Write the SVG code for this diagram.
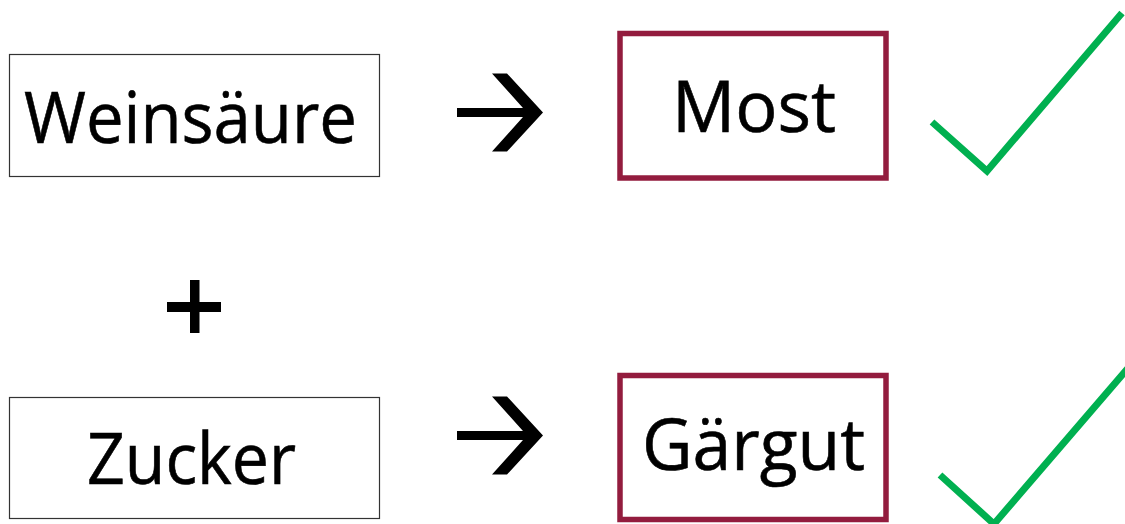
<svg xmlns="http://www.w3.org/2000/svg" width="1125" height="524" viewBox="0 0 1125 524">
  <style>
    .label { font-family: "Open Sans", "Noto Sans", "Liberation Sans", sans-serif; font-size: 72px; fill: #000; stroke: #000; stroke-width: 0.6; }
    .src { fill: #fff; stroke: #333; stroke-width: 1.2; }
    .dst { fill: #fff; stroke: #931C3E; stroke-width: 5.5; }
    .check { fill: none; stroke: #00B050; stroke-width: 7; stroke-linejoin: miter; }
  </style>
  <defs>
    <g id="arrow-shape">
      <rect x="457" y="-4.5" width="75" height="9"/>
      <polygon points="492,-39 507,-39 543,0 507,39 492,39 527,0"/>
    </g>
  </defs>
  <rect width="1125" height="524" fill="#fff"/>

  <g id="node-weinsaeure">
    <rect class="src" x="9.5" y="54.5" width="370" height="122"/>
    <text class="label" x="24" y="143" textLength="333" lengthAdjust="spacingAndGlyphs">Weinsäure</text>
  </g>

  <g id="node-plus">
    <rect x="190" y="280" width="9.5" height="53" fill="#000"/>
    <rect x="167" y="302" width="54" height="10" fill="#000"/>
  </g>

  <g id="node-zucker">
    <rect class="src" x="9.5" y="397.5" width="370" height="121"/>
    <text class="label" x="87" y="484" textLength="209" lengthAdjust="spacingAndGlyphs">Zucker</text>
  </g>

  <g id="node-most">
    <rect class="dst" x="620" y="33.5" width="266" height="144.5"/>
    <text class="label" x="672" y="132" textLength="164" lengthAdjust="spacingAndGlyphs">Most</text>
  </g>

  <g id="node-gaergut">
    <rect class="dst" x="620" y="375.5" width="266" height="144"/>
    <text class="label" x="642" y="470" textLength="223" lengthAdjust="spacingAndGlyphs">Gärgut</text>
  </g>

  <g id="check-most">
    <polyline class="check" points="932,122 987,171 1122,13"/>
  </g>

  <g id="check-gaergut">
    <polyline class="check" points="940,475 994,524 1135,360"/>
  </g>

  <g id="connectors" fill="#000">
    <use href="#arrow-shape" transform="translate(0,112.5)"/>
    <use href="#arrow-shape" transform="translate(0,435.5)"/>
  </g>
</svg>
